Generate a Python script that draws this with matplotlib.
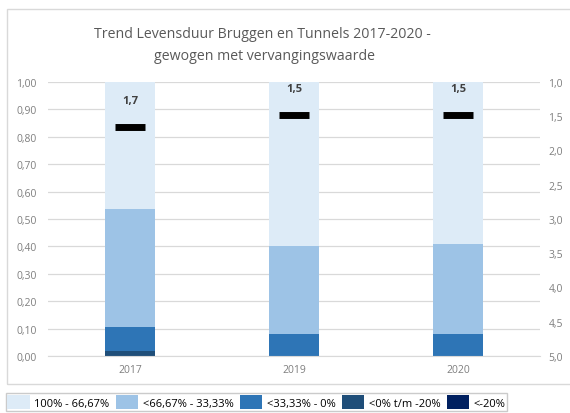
import numpy as np
import matplotlib
matplotlib.use('Agg')
import matplotlib.pyplot as plt
from matplotlib.patches import Rectangle, Patch
from matplotlib.ticker import FuncFormatter

plt.rcParams['font.family'] = ['Open Sans', 'DejaVu Sans']

# ---------------------------------------------------------------
# data
years = ['2017', '2019', '2020']
cat_names = ['100% - 66,67%', '<66,67% - 33,33%', '<33,33% - 0%',
             '<0% t/m -20%', '<-20%']
cat_colors = ['#DDEBF7', '#9DC3E6', '#2E75B6', '#1F4E79', '#002060']

share_100_67 = [0.465, 0.60, 0.59]
share_67_33 = [0.43, 0.32, 0.33]
share_33_0 = [0.085, 0.08, 0.08]
share_0_m20 = [0.02, 0.0, 0.0]
share_m20 = [0.0, 0.0, 0.0]

score = [1.66, 1.48, 1.48]          # right axis (inverted)
score_labels = ['1,7', '1,5', '1,5']

# ---------------------------------------------------------------
fig = plt.figure(figsize=(5.7, 4.14), dpi=100)

# outer chart border
fig.patches.append(Rectangle((7/570, 1-385/414), 1.0, (385-10)/414,
                             transform=fig.transFigure, fill=False,
                             edgecolor='#D9D9D9', lw=1.0, zorder=0))

ax = fig.add_axes([48/570, 1-357/414, 492/570, 274/414])
x = np.arange(len(years))
w = 0.31

# stack from the bottom: worst category first
stack = [share_m20, share_0_m20, share_33_0, share_67_33, share_100_67]
stack_colors = cat_colors[::-1]
bottom = np.zeros(len(years))
for vals, col in zip(stack, stack_colors):
    vals = np.array(vals)
    ax.bar(x, vals, w, bottom=bottom, color=col, zorder=2)
    bottom += vals

ax.set_xlim(-0.5, 2.5)
ax.set_ylim(0, 1.0)
ax.set_yticks(np.arange(0, 1.01, 0.1))
ax.yaxis.set_major_formatter(FuncFormatter(lambda v, p: f'{v:.2f}'.replace('.', ',')))
ax.set_xticks(x)
ax.set_xticklabels(years)
ax.grid(axis='y', color='#D9D9D9', lw=0.9, zorder=0)
for s in ['left', 'right', 'top']:
    ax.spines[s].set_visible(False)
ax.spines['bottom'].set_color('#D9D9D9')
ax.tick_params(axis='both', length=0, labelsize=7.5, colors='#7F7F7F')
ax.tick_params(axis='y', pad=8)
ax.tick_params(axis='x', pad=6)

# secondary axis for the score
ax2 = ax.twinx()
ax2.set_ylim(5.0, 1.0)
ax2.set_yticks(np.arange(1.0, 5.01, 0.5))
ax2.yaxis.set_major_formatter(FuncFormatter(lambda v, p: f'{v:.1f}'.replace('.', ',')))
for s in ['left', 'right', 'top', 'bottom']:
    ax2.spines[s].set_visible(False)
ax2.tick_params(axis='y', length=0, labelsize=7.5, colors='#7F7F7F', pad=6)

ax2.plot(x, score, linestyle='none', marker='_', markersize=21,
         markeredgewidth=5, color='black', zorder=5)
for xi, s, lab in zip(x, score, score_labels):
    ax2.annotate(lab, (xi, s), xytext=(0, 19), textcoords='offset points',
                 ha='center', va='center', fontsize=8, fontweight='bold',
                 color='#404040')

fig.text(262/570, 1-35/414, 'Trend Levensduur Bruggen en Tunnels 2017-2020 -',
         ha='center', va='center', fontsize=10.2, color='#595959')
fig.text(265/570, 1-57/414, 'gewogen met vervangingswaarde',
         ha='center', va='center', fontsize=10.2, color='#595959')

handles = [Patch(facecolor=c, edgecolor='none') for c in cat_colors]
leg = fig.legend(handles, cat_names, loc='center', ncol=5,
                 bbox_to_anchor=(0.45, 1-403/414), fontsize=8,
                 frameon=True, fancybox=False, edgecolor='#BFBFBF',
                 handlelength=2.0, handleheight=1.6, handletextpad=0.4,
                 columnspacing=0.6, borderpad=0.15)
leg.get_frame().set_linewidth(1.0)

fig.savefig('out.png', dpi=100)
